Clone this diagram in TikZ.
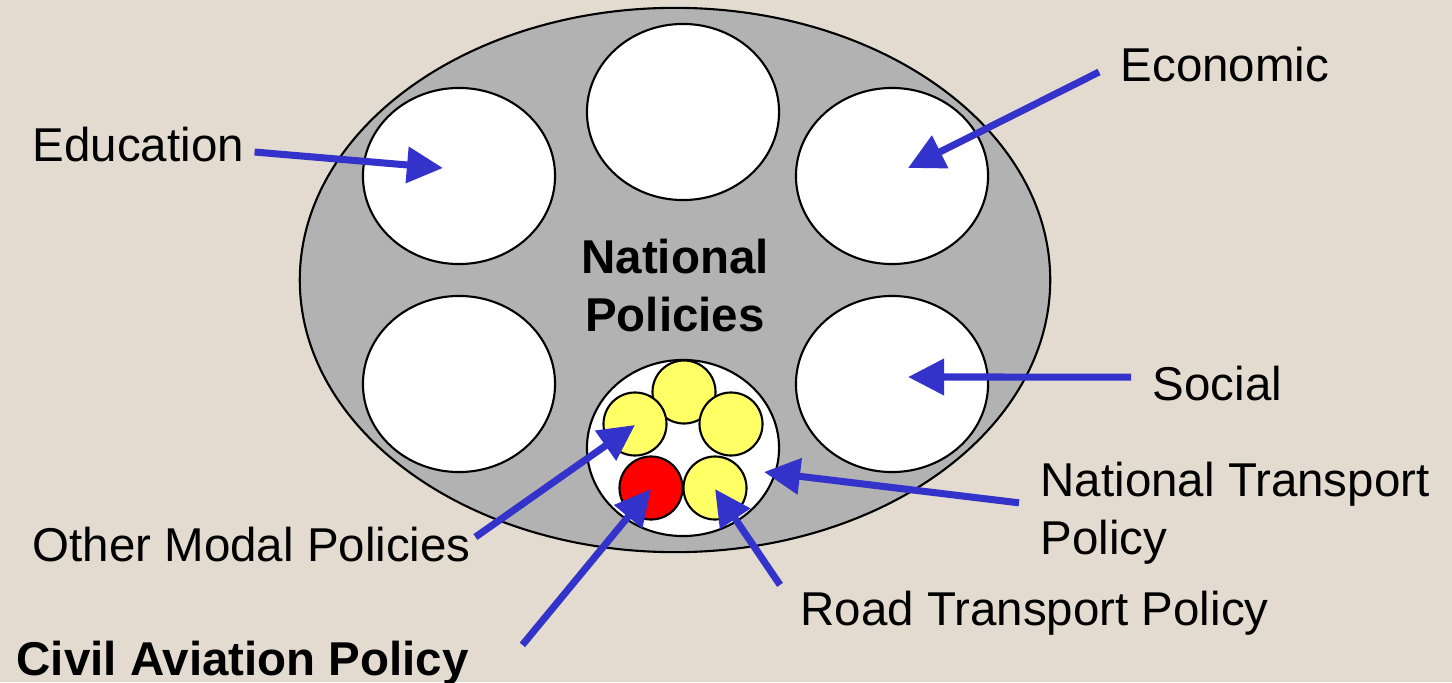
\documentclass[tikz,border=0pt]{standalone}
\usepackage{fontspec}
\setmainfont{Liberation Sans}
\usetikzlibrary{shapes.geometric,arrows.meta}

\definecolor{paper}{RGB}{227,219,207}
\definecolor{shade}{RGB}{178,178,178}
\definecolor{arrowblue}{RGB}{51,51,204}
\definecolor{pale}{RGB}{255,255,102}

\tikzset{
  policy/.style={ellipse,draw,line width=0.6pt,fill=white,minimum width=1.92cm,minimum height=1.76cm,inner sep=0pt},
  mode/.style={circle,draw,line width=0.6pt,fill=pale,minimum size=0.63cm,inner sep=0pt},
  lbl/.style={inner sep=0pt,font=\fontsize{13.5}{16.5}\selectfont},
  pointer/.style={draw=arrowblue,line width=2pt,-{Triangle[length=0.36cm,width=0.35cm]}},
}

\begin{document}
\begin{tikzpicture}[x=0.01cm,y=-0.01cm]
    \useasboundingbox (0,0) rectangle (1452,682);
    \fill[paper] (0,0) rectangle (1452,682);

    % the big one
    \node[ellipse,draw,fill=shade,line width=0.6pt,minimum width=7.5cm,minimum height=5.44cm] (nat) at (675,280) {};
    \node[policy] (top) at (683,112) {};
    \node[policy] (educircle) at (459,176) {};
    \node[policy] (ecocircle) at (892,176) {};
    \node[policy] (leftcircle) at (459,384) {};
    \node[policy] (soccircle) at (892,384) {};
    \node[policy] (transport) at (683,448) {};

    % modes inside transport
    \node[mode] (m1) at (684,392) {};
    \node[mode] (m2) at (635,424) {};
    \node[mode] (m3) at (731,424) {};
    \node[mode,fill=red] (air) at (651,488) {};
    \node[mode] (road) at (715,488) {};

    \node[lbl,anchor=north,align=center,font=\fontsize{13.5}{16.5}\selectfont\bfseries] (natlbl) at (675,238) {National\\Policies};

    \node[lbl,anchor=base west] (edu) at (32,162) {Education};
    \node[lbl,anchor=base west] (eco) at (1120,82) {Economic};
    \node[lbl,anchor=base west] (soc) at (1152,400) {Social};
    \node[lbl,anchor=north west,align=left] (ntp) at (1040,461) {National Transport\\Policy};
    \node[lbl,anchor=base west] (rtp) at (800,625) {Road Transport Policy};
    \node[lbl,anchor=base west] (omp) at (32,561) {Other Modal Policies};
    \node[lbl,anchor=base west,font=\fontsize{13.5}{16.5}\selectfont\bfseries] (cap) at (16,675) {Civil Aviation Policy};

    \coordinate (edutip) at (443,168);
    \coordinate (ecotip) at (908,168);
    \coordinate (soctip) at (908,377);
    \coordinate (ntptip) at (764,472);
    \coordinate (rtptip) at (715,489);
    \coordinate (omptip) at (635,425);
    \coordinate (captip) at (651,489);

    \draw[pointer] ([shift={(10,7)}]edu.east) -- (edutip);
    \draw[pointer] ([shift={(-21,7)}]eco.west) -- (ecotip);
    \draw[pointer] ([shift={(-21,-6)}]soc.west) -- (soctip);
    \draw[pointer] ([shift={(-21,-10)}]ntp.west) -- (ntptip);
    \draw[pointer] ([shift={(-20,-5)}]rtp.north west) -- (rtptip);
    \draw[pointer] ([shift={(4,-7)}]omp.east) -- (omptip);
    \draw[pointer] ([shift={(53,5)}]cap.north east) -- (captip);
\end{tikzpicture}
\end{document}
